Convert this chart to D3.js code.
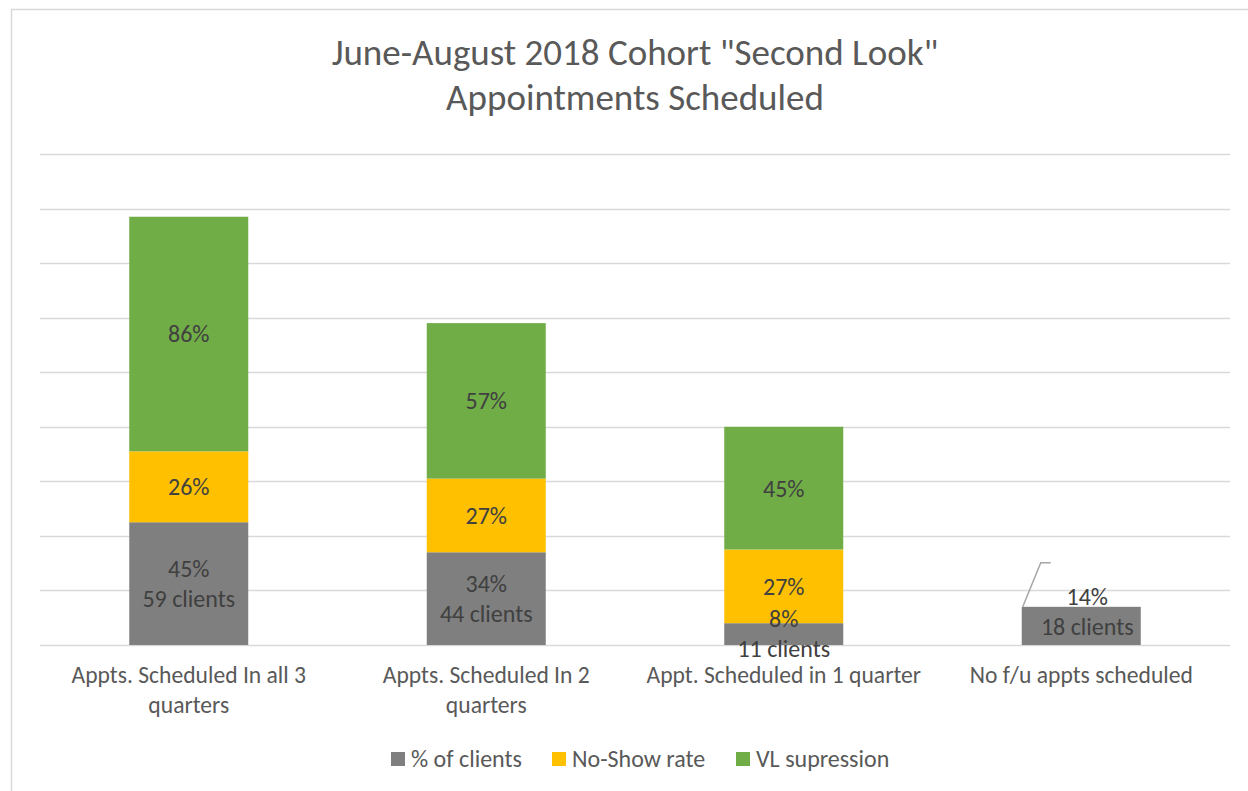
<!DOCTYPE html>
<html>
<head>
<meta charset="utf-8">
<script src="https://cdn.jsdelivr.net/npm/d3@7"></script>
<style>
  html, body { margin: 0; padding: 0; background: #fff; }
  svg { display: block; font-family: Carlito, Lato, "Open Sans", sans-serif; }
</style>
</head>
<body>
<svg id="chart" width="1248" height="791"></svg>
<script>
// Categories and their wrapped axis labels
const categories = [
  "Appts. Scheduled In all 3 quarters",
  "Appts. Scheduled In 2 quarters",
  "Appt. Scheduled in 1 quarter",
  "No f/u appts scheduled"
];
const categoryLabelLines = [
  ["Appts. Scheduled In all 3", "quarters"],
  ["Appts. Scheduled In 2", "quarters"],
  ["Appt. Scheduled in 1 quarter"],
  ["No f/u appts scheduled"]
];

// Series values (percent)
const seriesNames = ["% of clients", "No-Show rate", "VL supression"];
const pctClients   = [45, 34, 8, 14];
const noShowRate   = [26, 27, 27, null];
const vlSupression = [86, 57, 45, null];
const clientCounts = [59, 44, 11, 18];

// Value axis ticks (gridlines only, no labels)
const yTicks = [0, 20, 40, 60, 80, 100, 120, 140, 160, 180];

const colors = ["#7f7f7f", "#ffc000", "#70ad47"];

const svg = d3.select("#chart");

// chart area border
svg.append("rect")
  .attr("x", 11.5).attr("y", 9.5)
  .attr("width", 1260).attr("height", 800)
  .attr("fill", "#fff").attr("stroke", "#d9d9d9").attr("stroke-width", 1.5);

// title
const title = svg.append("text")
  .attr("text-anchor", "middle")
  .attr("fill", "#595959").attr("font-size", 37);
title.append("tspan").attr("x", 635).attr("y", 65).text('June-August 2018 Cohort "Second Look"');
title.append("tspan").attr("x", 635).attr("y", 110).text("Appointments Scheduled");

const plot = { left: 40, right: 1230, top: 154, bottom: 645 };

const x = d3.scaleBand()
  .domain(categories)
  .range([plot.left, plot.right])
  .paddingInner(0.6)
  .paddingOuter(0.3);

const y = d3.scaleLinear()
  .domain([0, 180])
  .range([plot.bottom, plot.top]);

// gridlines
svg.append("g")
  .selectAll("line")
  .data(yTicks)
  .join("line")
  .attr("x1", plot.left).attr("x2", plot.right)
  .attr("y1", d => Math.round(y(d)) + 0.5)
  .attr("y2", d => Math.round(y(d)) + 0.5)
  .attr("stroke", "#d9d9d9").attr("stroke-width", 1.5);

// stacked data
const rows = categories.map((c, i) => ({
  category: c,
  s0: pctClients[i] || 0,
  s1: noShowRate[i] || 0,
  s2: vlSupression[i] || 0
}));
const stack = d3.stack().keys(["s0", "s1", "s2"]);
const layers = stack(rows);

const gBars = svg.append("g");
layers.forEach((layer, li) => {
  gBars.append("g")
    .attr("fill", colors[li])
    .selectAll("rect")
    .data(layer.filter(d => d[1] - d[0] > 0))
    .join("rect")
    .attr("x", d => x(d.data.category))
    .attr("width", x.bandwidth())
    .attr("y", d => y(d[1]))
    .attr("height", d => y(d[0]) - y(d[1]));
});

// data labels
const gLabels = svg.append("g")
  .attr("text-anchor", "middle")
  .attr("font-size", 24)
  .attr("fill", "#404040");

// yellow and green segment labels
[1, 2].forEach(li => {
  layers[li].forEach(d => {
    if (d[1] - d[0] <= 0) return;
    gLabels.append("text")
      .attr("x", x(d.data.category) + x.bandwidth() / 2)
      .attr("y", (y(d[0]) + y(d[1])) / 2)
      .attr("dy", "0.35em")
      .text((d[1] - d[0]) + "%");
  });
});

// gray segment labels: percent + client count
const lineGap = 30;
layers[0].forEach((d, i) => {
  let cx = x(d.data.category) + x.bandwidth() / 2;
  let cy = (y(d[0]) + y(d[1])) / 2;
  const moved = i === 3;
  if (moved) { cx += 6; cy -= 14; }
  const t = gLabels.append("text");
  t.append("tspan").attr("x", cx).attr("y", cy - lineGap / 2).attr("dy", "0.35em")
    .text(pctClients[i] + "%");
  t.append("tspan").attr("x", cx).attr("y", cy + lineGap / 2).attr("dy", "0.35em")
    .text(clientCounts[i] + " clients");
  if (moved) {
    // leader line for the relocated label
    const bx = x(d.data.category);
    const by = y(d[1]);
    svg.append("path")
      .attr("d", `M${bx + 1},${by} L${bx + 19},${by - 44} L${bx + 29},${by - 44}`)
      .attr("fill", "none").attr("stroke", "#a6a6a6").attr("stroke-width", 1.5);
  }
});

// category axis labels
const gAxis = svg.append("g")
  .attr("text-anchor", "middle")
  .attr("font-size", 23.6)
  .attr("fill", "#595959");
categories.forEach((c, i) => {
  const cx = x(c) + x.bandwidth() / 2;
  const t = gAxis.append("text");
  categoryLabelLines[i].forEach((ln, k) => {
    t.append("tspan").attr("x", cx).attr("y", 683 + k * 30).text(ln);
  });
});

// legend
const legendX = [391, 552, 736];
const gLegend = svg.append("g").attr("font-size", 24).attr("fill", "#595959");
seriesNames.forEach((n, i) => {
  gLegend.append("rect")
    .attr("x", legendX[i]).attr("y", 752)
    .attr("width", 14).attr("height", 14)
    .attr("fill", colors[i]);
  gLegend.append("text")
    .attr("x", legendX[i] + 20).attr("y", 766.5)
    .text(n);
});
</script>
</body>
</html>
